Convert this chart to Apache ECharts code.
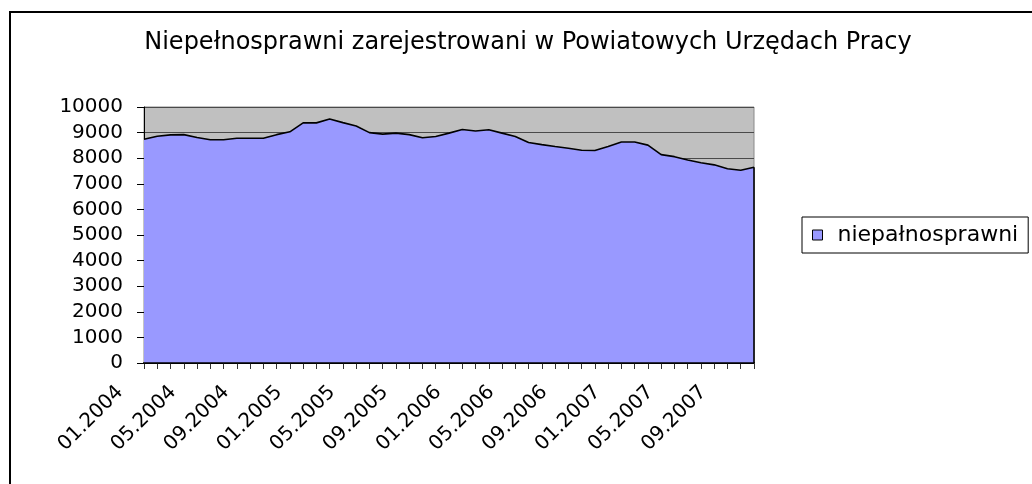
<!DOCTYPE html>
<html lang="pl">
	<head>
		<meta charset="UTF-8">
		<title>Niepełnosprawni zarejestrowani w PUP</title>
	</head>

	<style>
		html, body {
			margin: 0;
			padding: 0;
			background: #fff;
		}
		.chart {
			width: 1032px;
			height: 484px;
		}
	</style>

	<body>
		<div id='echarts' class="chart"></div>
	</body>

	<script type="text/javascript" src="https://cdn.jsdelivr.net/npm/echarts@6/dist/echarts.min.js"></script>
	<script>
		var months = [
			'01.2004','02.2004','03.2004','04.2004','05.2004','06.2004','07.2004','08.2004','09.2004','10.2004','11.2004','12.2004',
			'01.2005','02.2005','03.2005','04.2005','05.2005','06.2005','07.2005','08.2005','09.2005','10.2005','11.2005','12.2005',
			'01.2006','02.2006','03.2006','04.2006','05.2006','06.2006','07.2006','08.2006','09.2006','10.2006','11.2006','12.2006',
			'01.2007','02.2007','03.2007','04.2007','05.2007','06.2007','07.2007','08.2007','09.2007','10.2007','11.2007'
		]
		var niepelnosprawni = [
			8740, 8860, 8910, 8920, 8810, 8720, 8720, 8780, 8780, 8780, 8920, 9030,
			9380, 9380, 9530, 9390, 9260, 9000, 8940, 8980, 8920, 8800, 8850, 8980,
			9120, 9060, 9110, 8980, 8850, 8610, 8530, 8455, 8390, 8310, 8300, 8455,
			8630, 8630, 8510, 8140, 8060, 7930, 7820, 7740, 7590, 7530, 7650
		]
		var seriesName = 'niepałnosprawni'
		var titleText = 'Niepełnosprawni zarejestrowani w Powiatowych Urzędach Pracy'

		var font = 'DejaVu Sans'
		var lastMonth = months[months.length - 1]
		var lastValue = niepelnosprawni[niepelnosprawni.length - 1]

		var myChart = echarts.init(document.getElementById('echarts'))
		var option = {
			animation: false,
			backgroundColor: '#fff',
			title: {
				text: titleText,
				left: 528,
				textAlign: 'center',
				top: 31,
				padding: 0,
				textStyle: {
					color: '#000',
					fontFamily: font,
					fontWeight: 'normal',
					fontSize: 24
				}
			},
			graphic: [
				{
					// ramka wykresu
					type: 'rect',
					shape: { x: 10, y: 12, width: 1040, height: 500 },
					style: { fill: 'none', stroke: '#000', lineWidth: 2 },
					silent: true
				}
			],
			legend: {
				data: [seriesName],
				left: 802,
				top: 217,
				orient: 'vertical',
				padding: [7, 10, 7, 10],
				itemWidth: 10,
				itemHeight: 10,
				itemGap: 0,
				icon: 'rect',
				borderColor: '#000',
				borderWidth: 1,
				borderRadius: 0,
				itemStyle: { borderColor: '#000', borderWidth: 1 },
				textStyle: {
					color: '#000',
					fontFamily: font,
					fontSize: 22,
					padding: [0, 0, 0, 10]
				}
			},
			grid: {
				left: 144,
				right: 278,
				top: 107,
				bottom: 121,
				show: true,
				backgroundColor: '#c0c0c0',
				borderColor: '#8a8a8a',
				borderWidth: 1
			},
			xAxis: {
				type: 'category',
				boundaryGap: false,
				data: months,
				axisLine: { lineStyle: { color: '#000', width: 2 } },
				axisTick: {
					show: true,
					interval: 0,
					length: 6,
					lineStyle: { color: '#333' }
				},
				axisLabel: {
					interval: 3,
					rotate: 45,
					margin: 2,
					padding: [0, 34, 0, 0],
					color: '#000',
					fontFamily: font,
					fontSize: 20
				},
				splitLine: { show: false }
			},
			yAxis: {
				type: 'value',
				min: 0,
				max: 10000,
				interval: 1000,
				axisLine: { show: true, lineStyle: { color: '#000', width: 1 } },
				axisTick: { show: true, length: 7, lineStyle: { color: '#000' } },
				axisLabel: {
					margin: 21,
					color: '#000',
					fontFamily: font,
					fontSize: 20,
					formatter: function (v) { return String(v) }
				},
				splitLine: { show: true, lineStyle: { color: '#4a4a4a', width: 1 } }
			},
			series: [
				{
					name: seriesName,
					type: 'line',
					data: niepelnosprawni,
					symbol: 'none',
					lineStyle: { color: '#000', width: 1.6 },
					itemStyle: { color: '#9999ff' },
					areaStyle: { color: '#9999ff', opacity: 1 },
					markLine: {
						silent: true,
						symbol: 'none',
						label: { show: false },
						lineStyle: { color: '#000', width: 1.6, type: 'solid' },
						data: [
							[{ coord: [months[0], 0] }, { coord: [lastMonth, 0] }],
							[{ coord: [lastMonth, 0] }, { coord: [lastMonth, lastValue] }]
						]
					}
				}
			]
		}

		myChart.setOption(option, true)
	</script>
</html>
